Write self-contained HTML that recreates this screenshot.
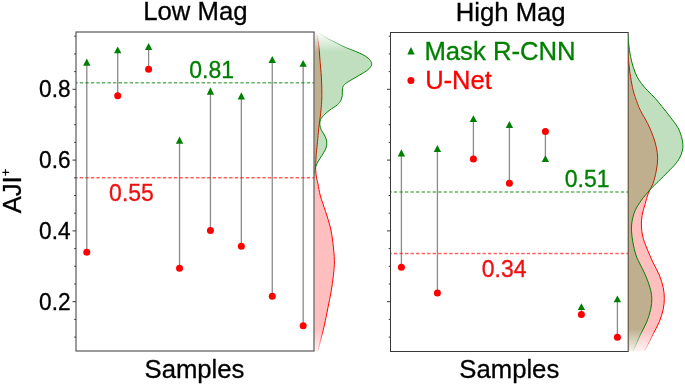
<!DOCTYPE html>
<html><head><meta charset="utf-8"><style>
html,body{margin:0;padding:0;background:#fff;}
body{width:685px;height:385px;overflow:hidden;}
svg{display:block;font-family:"Liberation Sans",sans-serif;}
</style></head><body>
<div style="will-change:transform;width:685px;height:385px">
<svg width="685" height="385" viewBox="0 0 685 385">
<defs>
<linearGradient id="fadeL" x1="0" y1="32" x2="0" y2="356" gradientUnits="userSpaceOnUse">
<stop offset="0" stop-color="#fff" stop-opacity="0"/>
<stop offset="0.0617" stop-color="#fff" stop-opacity="1"/>
<stop offset="0.9167" stop-color="#fff" stop-opacity="1"/>
<stop offset="1" stop-color="#fff" stop-opacity="0"/>
</linearGradient>
<linearGradient id="fadeR" x1="0" y1="32" x2="0" y2="356" gradientUnits="userSpaceOnUse">
<stop offset="0" stop-color="#fff" stop-opacity="0"/>
<stop offset="0.0278" stop-color="#fff" stop-opacity="1"/>
<stop offset="0.9167" stop-color="#fff" stop-opacity="1"/>
<stop offset="1" stop-color="#fff" stop-opacity="0"/>
</linearGradient>
<mask id="mL" maskUnits="userSpaceOnUse" x="314.45" y="0" width="80" height="385">
<rect x="314.45" y="32" width="80" height="324" fill="url(#fadeL)"/>
</mask>
<mask id="mR" maskUnits="userSpaceOnUse" x="628.2" y="0" width="60" height="385">
<rect x="628.2" y="32" width="60" height="324" fill="url(#fadeR)"/>
</mask>
</defs>
<rect width="685" height="385" fill="#fff"/>

<g mask="url(#mL)">
<path d="M314.00,32.30 L316.30,32.30 C316.43,32.68 316.65,32.07 317.10,34.60 C317.55,37.13 318.55,43.60 319.00,47.50 C319.45,51.40 319.53,54.75 319.80,58.00 C320.07,61.25 320.33,63.67 320.60,67.00 C320.87,70.33 321.20,74.17 321.40,78.00 C321.60,81.83 321.75,86.12 321.80,90.00 C321.85,93.88 321.90,97.33 321.70,101.30 C321.50,105.27 320.97,110.35 320.60,113.80 C320.23,117.25 319.83,119.30 319.50,122.00 C319.17,124.70 318.93,126.72 318.60,130.00 C318.27,133.28 317.88,137.80 317.50,141.70 C317.12,145.60 316.57,150.35 316.30,153.40 C316.03,156.45 316.02,157.73 315.90,160.00 C315.78,162.27 315.52,164.17 315.60,167.00 C315.68,169.83 316.00,174.17 316.40,177.00 C316.80,179.83 317.33,180.83 318.00,184.00 C318.67,187.17 319.13,191.40 320.40,196.00 C321.67,200.60 323.95,206.42 325.60,211.60 C327.25,216.78 329.08,221.92 330.30,227.10 C331.52,232.28 332.22,237.08 332.90,242.70 C333.58,248.32 334.32,255.33 334.40,260.80 C334.48,266.27 333.95,270.35 333.40,275.50 C332.85,280.65 332.02,286.30 331.10,291.70 C330.18,297.10 328.98,302.48 327.90,307.90 C326.82,313.32 325.68,319.33 324.60,324.20 C323.52,329.07 322.48,332.78 321.40,337.10 C320.32,341.42 318.70,347.75 318.10,350.10 C317.50,352.45 317.85,351.02 317.80,351.20 L314.00,351.20 Z" fill="#ff0000" fill-opacity="0.25" stroke="none"/>
<path d="M316.30,32.30 C316.43,32.68 316.65,32.07 317.10,34.60 C317.55,37.13 318.55,43.60 319.00,47.50 C319.45,51.40 319.53,54.75 319.80,58.00 C320.07,61.25 320.33,63.67 320.60,67.00 C320.87,70.33 321.20,74.17 321.40,78.00 C321.60,81.83 321.75,86.12 321.80,90.00 C321.85,93.88 321.90,97.33 321.70,101.30 C321.50,105.27 320.97,110.35 320.60,113.80 C320.23,117.25 319.83,119.30 319.50,122.00 C319.17,124.70 318.93,126.72 318.60,130.00 C318.27,133.28 317.88,137.80 317.50,141.70 C317.12,145.60 316.57,150.35 316.30,153.40 C316.03,156.45 316.02,157.73 315.90,160.00 C315.78,162.27 315.52,164.17 315.60,167.00 C315.68,169.83 316.00,174.17 316.40,177.00 C316.80,179.83 317.33,180.83 318.00,184.00 C318.67,187.17 319.13,191.40 320.40,196.00 C321.67,200.60 323.95,206.42 325.60,211.60 C327.25,216.78 329.08,221.92 330.30,227.10 C331.52,232.28 332.22,237.08 332.90,242.70 C333.58,248.32 334.32,255.33 334.40,260.80 C334.48,266.27 333.95,270.35 333.40,275.50 C332.85,280.65 332.02,286.30 331.10,291.70 C330.18,297.10 328.98,302.48 327.90,307.90 C326.82,313.32 325.68,319.33 324.60,324.20 C323.52,329.07 322.48,332.78 321.40,337.10 C320.32,341.42 318.70,347.75 318.10,350.10 C317.50,352.45 317.85,351.02 317.80,351.20" fill="none" stroke="#ff0000" stroke-width="1.0"/>
<path d="M314.00,32.30 L318.00,32.30 C318.68,32.75 320.40,33.92 322.10,35.00 C323.80,36.08 325.67,37.40 328.20,38.80 C330.73,40.20 334.27,41.90 337.30,43.40 C340.33,44.90 343.37,46.47 346.40,47.80 C349.43,49.13 352.78,50.27 355.50,51.40 C358.22,52.53 360.58,53.47 362.70,54.60 C364.82,55.73 366.73,56.85 368.20,58.20 C369.67,59.55 371.05,61.33 371.50,62.70 C371.95,64.07 371.75,65.03 370.90,66.40 C370.05,67.77 368.67,69.23 366.40,70.90 C364.13,72.57 360.33,74.58 357.30,76.40 C354.27,78.22 350.48,80.28 348.20,81.80 C345.92,83.32 344.57,84.13 343.60,85.50 C342.63,86.87 342.62,88.33 342.40,90.00 C342.18,91.67 342.57,93.75 342.30,95.50 C342.03,97.25 341.62,98.95 340.80,100.50 C339.98,102.05 339.27,103.18 337.40,104.80 C335.53,106.42 331.93,108.38 329.60,110.20 C327.27,112.02 324.90,114.13 323.40,115.70 C321.90,117.27 321.20,118.30 320.60,119.60 C320.00,120.90 319.83,122.18 319.80,123.50 C319.77,124.82 320.10,126.33 320.40,127.50 C320.70,128.67 321.05,129.43 321.60,130.50 C322.15,131.57 322.97,132.55 323.70,133.90 C324.43,135.25 325.48,137.05 326.00,138.60 C326.52,140.15 326.80,141.65 326.80,143.20 C326.80,144.75 326.52,146.33 326.00,147.90 C325.48,149.47 324.73,150.78 323.70,152.60 C322.67,154.42 320.92,156.97 319.80,158.80 C318.68,160.63 317.85,161.75 317.00,163.60 C316.15,165.45 315.15,168.17 314.70,169.90 C314.25,171.63 314.48,172.32 314.30,174.00 C314.12,175.68 313.82,177.33 313.60,180.00 C313.38,182.67 313.10,161.47 313.00,190.00 C312.90,218.53 313.00,324.33 313.00,351.20 L314.00,351.20 Z" fill="#008000" fill-opacity="0.25" stroke="none"/>
<path d="M318.00,32.30 C318.68,32.75 320.40,33.92 322.10,35.00 C323.80,36.08 325.67,37.40 328.20,38.80 C330.73,40.20 334.27,41.90 337.30,43.40 C340.33,44.90 343.37,46.47 346.40,47.80 C349.43,49.13 352.78,50.27 355.50,51.40 C358.22,52.53 360.58,53.47 362.70,54.60 C364.82,55.73 366.73,56.85 368.20,58.20 C369.67,59.55 371.05,61.33 371.50,62.70 C371.95,64.07 371.75,65.03 370.90,66.40 C370.05,67.77 368.67,69.23 366.40,70.90 C364.13,72.57 360.33,74.58 357.30,76.40 C354.27,78.22 350.48,80.28 348.20,81.80 C345.92,83.32 344.57,84.13 343.60,85.50 C342.63,86.87 342.62,88.33 342.40,90.00 C342.18,91.67 342.57,93.75 342.30,95.50 C342.03,97.25 341.62,98.95 340.80,100.50 C339.98,102.05 339.27,103.18 337.40,104.80 C335.53,106.42 331.93,108.38 329.60,110.20 C327.27,112.02 324.90,114.13 323.40,115.70 C321.90,117.27 321.20,118.30 320.60,119.60 C320.00,120.90 319.83,122.18 319.80,123.50 C319.77,124.82 320.10,126.33 320.40,127.50 C320.70,128.67 321.05,129.43 321.60,130.50 C322.15,131.57 322.97,132.55 323.70,133.90 C324.43,135.25 325.48,137.05 326.00,138.60 C326.52,140.15 326.80,141.65 326.80,143.20 C326.80,144.75 326.52,146.33 326.00,147.90 C325.48,149.47 324.73,150.78 323.70,152.60 C322.67,154.42 320.92,156.97 319.80,158.80 C318.68,160.63 317.85,161.75 317.00,163.60 C316.15,165.45 315.15,168.17 314.70,169.90 C314.25,171.63 314.48,172.32 314.30,174.00 C314.12,175.68 313.82,177.33 313.60,180.00 C313.38,182.67 313.10,161.47 313.00,190.00 C312.90,218.53 313.00,324.33 313.00,351.20" fill="none" stroke="#008000" stroke-width="1.0"/>
</g>
<line x1="86.80" y1="252.20" x2="86.80" y2="62.10" stroke="#8a8a8a" stroke-width="1.3"/>
<line x1="117.71" y1="95.80" x2="117.71" y2="49.85" stroke="#8a8a8a" stroke-width="1.3"/>
<line x1="148.62" y1="69.30" x2="148.62" y2="46.45" stroke="#8a8a8a" stroke-width="1.3"/>
<line x1="179.53" y1="268.30" x2="179.53" y2="140.15" stroke="#8a8a8a" stroke-width="1.3"/>
<line x1="210.44" y1="230.50" x2="210.44" y2="91.00" stroke="#8a8a8a" stroke-width="1.3"/>
<line x1="241.35" y1="246.30" x2="241.35" y2="95.95" stroke="#8a8a8a" stroke-width="1.3"/>
<line x1="272.26" y1="296.30" x2="272.26" y2="59.60" stroke="#8a8a8a" stroke-width="1.3"/>
<line x1="303.17" y1="325.70" x2="303.17" y2="63.35" stroke="#8a8a8a" stroke-width="1.3"/>
<line x1="401.40" y1="267.20" x2="401.40" y2="152.85" stroke="#8a8a8a" stroke-width="1.3"/>
<line x1="437.40" y1="292.90" x2="437.40" y2="148.50" stroke="#8a8a8a" stroke-width="1.3"/>
<line x1="473.40" y1="159.10" x2="473.40" y2="118.65" stroke="#8a8a8a" stroke-width="1.3"/>
<line x1="509.40" y1="183.20" x2="509.40" y2="124.55" stroke="#8a8a8a" stroke-width="1.3"/>
<line x1="545.40" y1="131.40" x2="545.40" y2="158.65" stroke="#8a8a8a" stroke-width="1.3"/>
<line x1="581.40" y1="314.60" x2="581.40" y2="306.55" stroke="#8a8a8a" stroke-width="1.3"/>
<line x1="617.40" y1="337.20" x2="617.40" y2="298.85" stroke="#8a8a8a" stroke-width="1.3"/>
<g stroke-width="1.5" stroke-dasharray="3.4 2.136">
<line x1="76.0" y1="82.8" x2="314.0" y2="82.8" stroke="#008000" stroke-opacity="0.6" stroke-dashoffset="1.75"/>
<line x1="76.0" y1="177.8" x2="314.0" y2="177.8" stroke="#ff0000" stroke-opacity="0.62" stroke-dashoffset="1.8"/>
<line x1="390.5" y1="191.9" x2="628.2" y2="191.9" stroke="#008000" stroke-opacity="0.6" stroke-dashoffset="2.17"/>
<line x1="390.5" y1="253.6" x2="628.2" y2="253.6" stroke="#ff0000" stroke-opacity="0.62" stroke-dashoffset="2.17"/>
</g>
<path d="M86.80,58.50 L83.10,65.70 L90.50,65.70 Z" fill="#008000"/>
<circle cx="86.80" cy="252.20" r="3.5" fill="#ff0000"/>
<path d="M117.71,46.40 L114.01,53.30 L121.41,53.30 Z" fill="#008000"/>
<circle cx="117.71" cy="95.80" r="3.5" fill="#ff0000"/>
<path d="M148.62,42.90 L144.92,50.00 L152.32,50.00 Z" fill="#008000"/>
<circle cx="148.62" cy="69.30" r="3.5" fill="#ff0000"/>
<path d="M179.53,136.60 L175.83,143.70 L183.23,143.70 Z" fill="#008000"/>
<circle cx="179.53" cy="268.30" r="3.5" fill="#ff0000"/>
<path d="M210.44,87.30 L206.74,94.70 L214.14,94.70 Z" fill="#008000"/>
<circle cx="210.44" cy="230.50" r="3.5" fill="#ff0000"/>
<path d="M241.35,92.30 L237.65,99.60 L245.05,99.60 Z" fill="#008000"/>
<circle cx="241.35" cy="246.30" r="3.5" fill="#ff0000"/>
<path d="M272.26,56.10 L268.56,63.10 L275.96,63.10 Z" fill="#008000"/>
<circle cx="272.26" cy="296.30" r="3.5" fill="#ff0000"/>
<path d="M303.17,59.90 L299.47,66.80 L306.87,66.80 Z" fill="#008000"/>
<circle cx="303.17" cy="325.70" r="3.5" fill="#ff0000"/>
<path d="M401.40,149.20 L397.70,156.50 L405.10,156.50 Z" fill="#008000"/>
<circle cx="401.40" cy="267.20" r="3.5" fill="#ff0000"/>
<path d="M437.40,145.00 L433.70,152.00 L441.10,152.00 Z" fill="#008000"/>
<circle cx="437.40" cy="292.90" r="3.5" fill="#ff0000"/>
<path d="M473.40,115.20 L469.70,122.10 L477.10,122.10 Z" fill="#008000"/>
<circle cx="473.40" cy="159.10" r="3.5" fill="#ff0000"/>
<path d="M509.40,121.00 L505.70,128.10 L513.10,128.10 Z" fill="#008000"/>
<circle cx="509.40" cy="183.20" r="3.5" fill="#ff0000"/>
<path d="M545.40,155.30 L541.70,162.00 L549.10,162.00 Z" fill="#008000"/>
<circle cx="545.40" cy="131.40" r="3.5" fill="#ff0000"/>
<path d="M581.40,303.20 L577.70,309.90 L585.10,309.90 Z" fill="#008000"/>
<circle cx="581.40" cy="314.60" r="3.5" fill="#ff0000"/>
<path d="M617.40,295.40 L613.70,302.30 L621.10,302.30 Z" fill="#008000"/>
<circle cx="617.40" cy="337.20" r="3.5" fill="#ff0000"/>
<rect x="76.00" y="32.00" width="238.00" height="319.00" fill="none" stroke="#383838" stroke-width="1.0"/>
<line x1="74.20" y1="337.10" x2="76.00" y2="337.10" stroke="#383838" stroke-width="1.0"/>
<line x1="74.20" y1="319.40" x2="76.00" y2="319.40" stroke="#383838" stroke-width="1.0"/>
<line x1="72.50" y1="301.70" x2="76.00" y2="301.70" stroke="#383838" stroke-width="1.0"/>
<line x1="74.20" y1="284.00" x2="76.00" y2="284.00" stroke="#383838" stroke-width="1.0"/>
<line x1="74.20" y1="266.30" x2="76.00" y2="266.30" stroke="#383838" stroke-width="1.0"/>
<line x1="74.20" y1="248.60" x2="76.00" y2="248.60" stroke="#383838" stroke-width="1.0"/>
<line x1="72.50" y1="230.90" x2="76.00" y2="230.90" stroke="#383838" stroke-width="1.0"/>
<line x1="74.20" y1="213.20" x2="76.00" y2="213.20" stroke="#383838" stroke-width="1.0"/>
<line x1="74.20" y1="195.50" x2="76.00" y2="195.50" stroke="#383838" stroke-width="1.0"/>
<line x1="74.20" y1="177.80" x2="76.00" y2="177.80" stroke="#383838" stroke-width="1.0"/>
<line x1="72.50" y1="160.10" x2="76.00" y2="160.10" stroke="#383838" stroke-width="1.0"/>
<line x1="74.20" y1="142.40" x2="76.00" y2="142.40" stroke="#383838" stroke-width="1.0"/>
<line x1="74.20" y1="124.70" x2="76.00" y2="124.70" stroke="#383838" stroke-width="1.0"/>
<line x1="74.20" y1="107.00" x2="76.00" y2="107.00" stroke="#383838" stroke-width="1.0"/>
<line x1="72.50" y1="89.30" x2="76.00" y2="89.30" stroke="#383838" stroke-width="1.0"/>
<line x1="74.20" y1="71.60" x2="76.00" y2="71.60" stroke="#383838" stroke-width="1.0"/>
<line x1="74.20" y1="53.90" x2="76.00" y2="53.90" stroke="#383838" stroke-width="1.0"/>
<line x1="74.20" y1="36.20" x2="76.00" y2="36.20" stroke="#383838" stroke-width="1.0"/>
<rect x="390.50" y="32.50" width="237.70" height="319.00" fill="none" stroke="#383838" stroke-width="1.0"/>
<line x1="388.70" y1="337.10" x2="390.50" y2="337.10" stroke="#383838" stroke-width="1.0"/>
<line x1="388.70" y1="319.40" x2="390.50" y2="319.40" stroke="#383838" stroke-width="1.0"/>
<line x1="387.00" y1="301.70" x2="390.50" y2="301.70" stroke="#383838" stroke-width="1.0"/>
<line x1="388.70" y1="284.00" x2="390.50" y2="284.00" stroke="#383838" stroke-width="1.0"/>
<line x1="388.70" y1="266.30" x2="390.50" y2="266.30" stroke="#383838" stroke-width="1.0"/>
<line x1="388.70" y1="248.60" x2="390.50" y2="248.60" stroke="#383838" stroke-width="1.0"/>
<line x1="387.00" y1="230.90" x2="390.50" y2="230.90" stroke="#383838" stroke-width="1.0"/>
<line x1="388.70" y1="213.20" x2="390.50" y2="213.20" stroke="#383838" stroke-width="1.0"/>
<line x1="388.70" y1="195.50" x2="390.50" y2="195.50" stroke="#383838" stroke-width="1.0"/>
<line x1="388.70" y1="177.80" x2="390.50" y2="177.80" stroke="#383838" stroke-width="1.0"/>
<line x1="387.00" y1="160.10" x2="390.50" y2="160.10" stroke="#383838" stroke-width="1.0"/>
<line x1="388.70" y1="142.40" x2="390.50" y2="142.40" stroke="#383838" stroke-width="1.0"/>
<line x1="388.70" y1="124.70" x2="390.50" y2="124.70" stroke="#383838" stroke-width="1.0"/>
<line x1="388.70" y1="107.00" x2="390.50" y2="107.00" stroke="#383838" stroke-width="1.0"/>
<line x1="387.00" y1="89.30" x2="390.50" y2="89.30" stroke="#383838" stroke-width="1.0"/>
<line x1="388.70" y1="71.60" x2="390.50" y2="71.60" stroke="#383838" stroke-width="1.0"/>
<line x1="388.70" y1="53.90" x2="390.50" y2="53.90" stroke="#383838" stroke-width="1.0"/>
<line x1="388.70" y1="36.20" x2="390.50" y2="36.20" stroke="#383838" stroke-width="1.0"/>
<g mask="url(#mR)">
<path d="M627.90,32.30 L627.50,32.30 C627.50,34.92 627.43,44.38 627.50,48.00 C627.57,51.62 627.75,52.22 627.90,54.00 C628.05,55.78 628.22,56.87 628.40,58.70 C628.58,60.53 628.78,62.95 629.00,65.00 C629.22,67.05 629.45,69.10 629.70,71.00 C629.95,72.90 630.15,74.23 630.50,76.40 C630.85,78.57 631.33,81.58 631.80,84.00 C632.27,86.42 632.77,88.82 633.30,90.90 C633.83,92.98 634.40,94.68 635.00,96.50 C635.60,98.32 636.02,99.52 636.90,101.80 C637.78,104.08 638.50,106.57 640.30,110.20 C642.10,113.83 645.55,119.23 647.70,123.60 C649.85,127.97 651.77,132.45 653.20,136.40 C654.63,140.35 655.55,143.67 656.30,147.30 C657.05,150.93 657.72,154.22 657.70,158.20 C657.68,162.18 656.98,166.97 656.20,171.20 C655.42,175.43 654.30,179.97 653.00,183.60 C651.70,187.23 649.73,189.53 648.40,193.00 C647.07,196.47 646.05,200.68 645.00,204.40 C643.95,208.12 642.70,211.67 642.10,215.30 C641.50,218.93 641.27,222.57 641.40,226.20 C641.53,229.83 642.00,233.47 642.90,237.10 C643.80,240.73 645.12,243.77 646.80,248.00 C648.48,252.23 650.92,258.02 653.00,262.50 C655.08,266.98 657.60,270.75 659.30,274.90 C661.00,279.05 662.37,283.50 663.20,287.40 C664.03,291.30 664.30,294.63 664.30,298.30 C664.30,301.97 664.03,305.48 663.20,309.40 C662.37,313.32 661.00,317.65 659.30,321.80 C657.60,325.95 655.08,330.13 653.00,334.30 C650.92,338.47 648.30,343.98 646.80,346.80 C645.30,349.62 644.47,350.47 644.00,351.20 L627.90,351.20 Z" fill="#ff0000" fill-opacity="0.25" stroke="none"/>
<path d="M627.50,32.30 C627.50,34.92 627.43,44.38 627.50,48.00 C627.57,51.62 627.75,52.22 627.90,54.00 C628.05,55.78 628.22,56.87 628.40,58.70 C628.58,60.53 628.78,62.95 629.00,65.00 C629.22,67.05 629.45,69.10 629.70,71.00 C629.95,72.90 630.15,74.23 630.50,76.40 C630.85,78.57 631.33,81.58 631.80,84.00 C632.27,86.42 632.77,88.82 633.30,90.90 C633.83,92.98 634.40,94.68 635.00,96.50 C635.60,98.32 636.02,99.52 636.90,101.80 C637.78,104.08 638.50,106.57 640.30,110.20 C642.10,113.83 645.55,119.23 647.70,123.60 C649.85,127.97 651.77,132.45 653.20,136.40 C654.63,140.35 655.55,143.67 656.30,147.30 C657.05,150.93 657.72,154.22 657.70,158.20 C657.68,162.18 656.98,166.97 656.20,171.20 C655.42,175.43 654.30,179.97 653.00,183.60 C651.70,187.23 649.73,189.53 648.40,193.00 C647.07,196.47 646.05,200.68 645.00,204.40 C643.95,208.12 642.70,211.67 642.10,215.30 C641.50,218.93 641.27,222.57 641.40,226.20 C641.53,229.83 642.00,233.47 642.90,237.10 C643.80,240.73 645.12,243.77 646.80,248.00 C648.48,252.23 650.92,258.02 653.00,262.50 C655.08,266.98 657.60,270.75 659.30,274.90 C661.00,279.05 662.37,283.50 663.20,287.40 C664.03,291.30 664.30,294.63 664.30,298.30 C664.30,301.97 664.03,305.48 663.20,309.40 C662.37,313.32 661.00,317.65 659.30,321.80 C657.60,325.95 655.08,330.13 653.00,334.30 C650.92,338.47 648.30,343.98 646.80,346.80 C645.30,349.62 644.47,350.47 644.00,351.20" fill="none" stroke="#ff0000" stroke-width="1.0"/>
<path d="M627.90,32.30 L628.20,32.30 C628.22,33.25 628.22,36.12 628.30,38.00 C628.38,39.88 628.33,40.53 628.70,43.60 C629.07,46.67 629.73,52.45 630.50,56.40 C631.27,60.35 632.23,63.97 633.30,67.30 C634.37,70.63 635.53,73.68 636.90,76.40 C638.27,79.12 639.68,81.18 641.50,83.60 C643.32,86.02 645.53,88.47 647.80,90.90 C650.07,93.33 652.75,95.62 655.10,98.20 C657.45,100.78 659.33,103.22 661.90,106.40 C664.47,109.58 667.87,113.82 670.50,117.30 C673.13,120.78 675.88,124.12 677.70,127.30 C679.52,130.48 680.53,133.53 681.40,136.40 C682.27,139.27 682.75,142.08 682.90,144.50 C683.05,146.92 682.87,148.62 682.30,150.90 C681.73,153.18 680.87,155.77 679.50,158.20 C678.13,160.63 676.43,162.82 674.10,165.50 C671.77,168.18 668.48,171.28 665.50,174.30 C662.52,177.32 658.80,181.00 656.20,183.60 C653.60,186.20 652.37,187.13 649.90,189.90 C647.43,192.67 643.87,196.75 641.40,200.20 C638.93,203.65 636.67,207.05 635.10,210.60 C633.53,214.15 632.60,218.13 632.00,221.50 C631.40,224.87 631.37,227.42 631.50,230.80 C631.63,234.18 632.07,237.77 632.80,241.80 C633.53,245.83 634.78,251.47 635.90,255.00 C637.02,258.53 637.93,259.68 639.50,263.00 C641.07,266.32 643.57,270.83 645.30,274.90 C647.03,278.97 648.82,283.50 649.90,287.40 C650.98,291.30 651.67,294.63 651.80,298.30 C651.93,301.97 651.53,305.48 650.70,309.40 C649.87,313.32 648.48,317.65 646.80,321.80 C645.12,325.95 642.55,330.13 640.60,334.30 C638.65,338.47 636.37,343.98 635.10,346.80 C633.83,349.62 633.35,350.47 633.00,351.20 L627.90,351.20 Z" fill="#008000" fill-opacity="0.25" stroke="none"/>
<path d="M628.20,32.30 C628.22,33.25 628.22,36.12 628.30,38.00 C628.38,39.88 628.33,40.53 628.70,43.60 C629.07,46.67 629.73,52.45 630.50,56.40 C631.27,60.35 632.23,63.97 633.30,67.30 C634.37,70.63 635.53,73.68 636.90,76.40 C638.27,79.12 639.68,81.18 641.50,83.60 C643.32,86.02 645.53,88.47 647.80,90.90 C650.07,93.33 652.75,95.62 655.10,98.20 C657.45,100.78 659.33,103.22 661.90,106.40 C664.47,109.58 667.87,113.82 670.50,117.30 C673.13,120.78 675.88,124.12 677.70,127.30 C679.52,130.48 680.53,133.53 681.40,136.40 C682.27,139.27 682.75,142.08 682.90,144.50 C683.05,146.92 682.87,148.62 682.30,150.90 C681.73,153.18 680.87,155.77 679.50,158.20 C678.13,160.63 676.43,162.82 674.10,165.50 C671.77,168.18 668.48,171.28 665.50,174.30 C662.52,177.32 658.80,181.00 656.20,183.60 C653.60,186.20 652.37,187.13 649.90,189.90 C647.43,192.67 643.87,196.75 641.40,200.20 C638.93,203.65 636.67,207.05 635.10,210.60 C633.53,214.15 632.60,218.13 632.00,221.50 C631.40,224.87 631.37,227.42 631.50,230.80 C631.63,234.18 632.07,237.77 632.80,241.80 C633.53,245.83 634.78,251.47 635.90,255.00 C637.02,258.53 637.93,259.68 639.50,263.00 C641.07,266.32 643.57,270.83 645.30,274.90 C647.03,278.97 648.82,283.50 649.90,287.40 C650.98,291.30 651.67,294.63 651.80,298.30 C651.93,301.97 651.53,305.48 650.70,309.40 C649.87,313.32 648.48,317.65 646.80,321.80 C645.12,325.95 642.55,330.13 640.60,334.30 C638.65,338.47 636.37,343.98 635.10,346.80 C633.83,349.62 633.35,350.47 633.00,351.20" fill="none" stroke="#008000" stroke-width="1.0"/>
</g>
<text x="195.4" y="20.4" font-size="25.7" text-anchor="middle" fill="#000" stroke="#000" stroke-width="0.3">Low Mag</text>
<text x="510.7" y="20.8" font-size="25.7" text-anchor="middle" fill="#000" stroke="#000" stroke-width="0.3">High Mag</text>
<text x="194.5" y="377.5" font-size="25.7" text-anchor="middle" fill="#000" stroke="#000" stroke-width="0.3">Samples</text>
<text x="509.3" y="377.5" font-size="25.7" text-anchor="middle" fill="#000" stroke="#000" stroke-width="0.3">Samples</text>
<text transform="translate(70.6,97.30) scale(0.985,1)" font-size="23.0" text-anchor="end" fill="#000" stroke="#000" stroke-width="0.3">0.8</text>
<text transform="translate(70.6,168.10) scale(0.985,1)" font-size="23.0" text-anchor="end" fill="#000" stroke="#000" stroke-width="0.3">0.6</text>
<text transform="translate(70.6,238.90) scale(0.985,1)" font-size="23.0" text-anchor="end" fill="#000" stroke="#000" stroke-width="0.3">0.4</text>
<text transform="translate(70.6,309.70) scale(0.985,1)" font-size="23.0" text-anchor="end" fill="#000" stroke="#000" stroke-width="0.3">0.2</text>
<text transform="translate(20.8,191.0) rotate(-90)" font-size="25.7" text-anchor="middle" fill="#000" stroke="#000" stroke-width="0.3">AJI<tspan font-size="13" dy="-10.8">+</tspan></text>
<text x="211.6" y="77.7" font-size="23" text-anchor="middle" fill="#008000" stroke="#008000" stroke-width="0.3">0.81</text>
<text x="131.5" y="200.5" font-size="23" text-anchor="middle" fill="#ee1111" stroke="#ee1111" stroke-width="0.3">0.55</text>
<text x="587.1" y="187.0" font-size="23" text-anchor="middle" fill="#008000" stroke="#008000" stroke-width="0.3">0.51</text>
<text x="504.2" y="276.7" font-size="23" text-anchor="middle" fill="#ee1111" stroke="#ee1111" stroke-width="0.3">0.34</text>
<path d="M411,46.9 L407.3,54.6 L414.7,54.6 Z" fill="#008000"/>
<circle cx="410.9" cy="80.4" r="3.5" fill="#ff0000"/>
<text x="424.4" y="60" font-size="25.7" fill="#008000" stroke="#008000" stroke-width="0.3">Mask R-CNN</text>
<text x="425.2" y="88.9" font-size="25.5" fill="#ff0000" stroke="#ff0000" stroke-width="0.3">U-Net</text>
</svg></div></body></html>
